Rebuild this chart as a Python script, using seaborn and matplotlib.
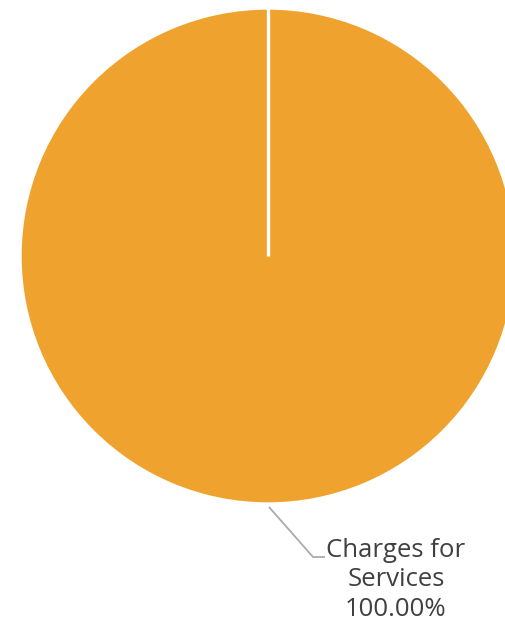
import matplotlib
matplotlib.use("Agg")
import matplotlib.pyplot as plt
import numpy as np
import seaborn as sns

categories = ["Charges for\nServices"]
values = [100.0]
colors = ["#F0A22E"]

sns.set_theme(style="white")
plt.rcParams["font.family"] = ["Open Sans", "DejaVu Sans"]

W, H = 506, 626
fig = plt.figure(figsize=(W / 100, H / 100), dpi=100)
ax = fig.add_axes([0, 0, 1, 1])

cx, cy, r = 268, H - 256, 248
start = 90
wedges, _ = ax.pie(values, colors=colors, startangle=start, counterclock=False,
                   center=(cx, cy), radius=r,
                   wedgeprops=dict(edgecolor="white", linewidth=2.4))
ax.set_xlim(0, W)
ax.set_ylim(0, H)
ax.set_aspect("equal")
ax.axis("off")

# slice boundary (single 100% slice: draw the radial edge at the start angle)
th = np.deg2rad(start)
ax.plot([cx, cx + r * np.cos(th)], [cy, cy + r * np.sin(th)],
        color="white", lw=2.4, solid_capstyle="butt")

# leader line
ax.plot([269, 313, 325], [H - 507, H - 557, H - 557], color="#ababab", lw=1.3,
        solid_capstyle="butt")

total = sum(values)
label = f"{categories[0]}\n{values[0] / total * 100:.2f}%"
ax.text(396, H - 580, label, ha="center", va="center", multialignment="center",
        fontsize=18.5, color="#404040", linespacing=1.25)

fig.savefig("out.png", dpi=100)
